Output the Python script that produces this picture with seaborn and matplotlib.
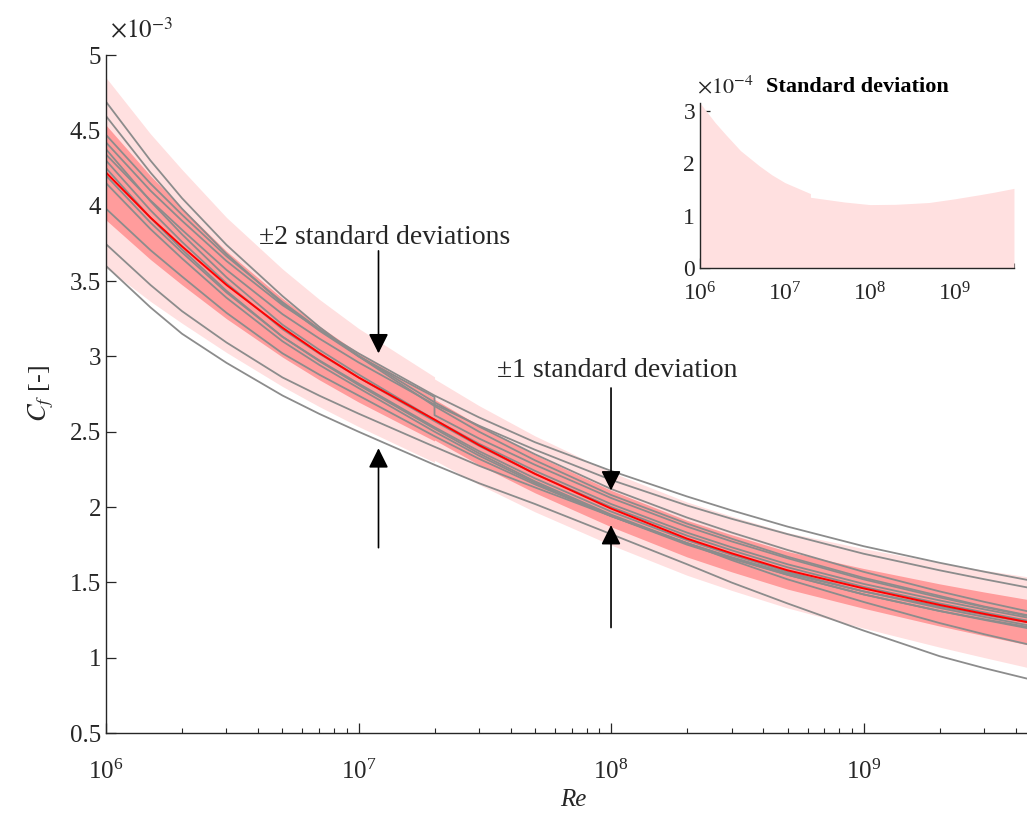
import matplotlib
matplotlib.use("Agg")
import matplotlib.pyplot as plt
import seaborn as sns
import numpy as np
import pandas as pd
from matplotlib.ticker import FuncFormatter, LogLocator, NullFormatter

# Reynolds numbers where the curves were read (2e7 twice: one line has a step there)
re_grid = [1e6, 1.5e6, 2e6, 3e6, 5e6, 7e6, 1e7, 2e7, 2e7, 3e7,
           5e7, 1e8, 2e8, 3e8, 5e8, 1e9, 2e9, 3e9, 5e9]

# individual friction lines, Cf in units of 1e-3
line_a = [4.69, 4.30, 4.05, 3.74, 3.40, 3.195, 3.00, 2.67, 2.67, 2.50,
          2.31, 2.08, 1.89, 1.79, 1.67, 1.53, 1.41, 1.34, 1.265]
line_b = [4.595, 4.22, 3.98, 3.68, 3.35, 3.17, 3.00, 2.73, 2.61, 2.455,
          2.28, 2.06, 1.87, 1.772, 1.66, 1.52, 1.40, 1.336, 1.26]
line_c = [4.47, 4.147, 3.94, 3.665, 3.36, 3.18, 3.005, 2.695, 2.695, 2.534,
          2.35, 2.12, 1.93, 1.831, 1.715, 1.57, 1.44, 1.371, 1.29]
line_d = [4.42, 4.10, 3.90, 3.633, 3.34, 3.178, 3.02, 2.74, 2.74, 2.595,
          2.43, 2.24, 2.07, 1.978, 1.87, 1.74, 1.63, 1.571, 1.50]
line_e = [4.34, 4.035, 3.84, 3.574, 3.28, 3.118, 2.96, 2.68, 2.68, 2.54,
          2.38, 2.18, 2.01, 1.922, 1.82, 1.69, 1.58, 1.521, 1.45]
line_f = [4.375, 4.03, 3.81, 3.525, 3.21, 3.043, 2.88, 2.58, 2.58, 2.42,
          2.24, 2.02, 1.83, 1.733, 1.62, 1.49, 1.38, 1.321, 1.25]
line_g = [4.30, 3.97, 3.76, 3.485, 3.18, 3.017, 2.86, 2.57, 2.57, 2.406,
          2.22, 2.00, 1.81, 1.713, 1.60, 1.47, 1.36, 1.301, 1.23]
line_h = [4.25, 3.92, 3.71, 3.435, 3.13, 2.968, 2.81, 2.52, 2.52, 2.356,
          2.17, 1.95, 1.76, 1.663, 1.55, 1.42, 1.31, 1.251, 1.18]
line_i = [4.20, 3.888, 3.69, 3.424, 3.13, 2.973, 2.82, 2.53, 2.53, 2.371,
          2.19, 1.97, 1.78, 1.683, 1.57, 1.44, 1.33, 1.271, 1.20]
line_j = [4.15, 3.845, 3.65, 3.389, 3.10, 2.943, 2.79, 2.50, 2.50, 2.341,
          2.16, 1.94, 1.75, 1.657, 1.55, 1.42, 1.31, 1.255, 1.19]
line_k = [3.98, 3.705, 3.53, 3.289, 3.02, 2.878, 2.74, 2.47, 2.47, 2.32,
          2.15, 1.94, 1.76, 1.667, 1.56, 1.44, 1.34, 1.285, 1.22]
line_l = [3.745, 3.474, 3.30, 3.092, 2.86, 2.739, 2.62, 2.40, 2.40, 2.274,
          2.13, 1.94, 1.76, 1.648, 1.52, 1.37, 1.23, 1.156, 1.07]
line_m = [3.60, 3.325, 3.15, 2.957, 2.74, 2.618, 2.50, 2.28, 2.28, 2.158,
          2.02, 1.82, 1.62, 1.499, 1.36, 1.18, 1.01, 0.931, 0.84]

# mean (1e-3) and standard deviation (1e-4)
cf_mean = [4.22, 3.921, 3.73, 3.474, 3.19, 3.022, 2.86, 2.58, 2.58, 2.411,
           2.22, 1.99, 1.79, 1.693, 1.58, 1.46, 1.35, 1.291, 1.22]
cf_std = [3.15, 2.78, 2.55, 2.24, 1.95, 1.78, 1.63, 1.42, 1.35, 1.31,
          1.26, 1.21, 1.215, 1.23, 1.25, 1.32, 1.40, 1.45, 1.52]

y_ticks = [0.5, 1, 1.5, 2, 2.5, 3, 3.5, 4, 4.5, 5]
inset_y_ticks = [0, 1, 2, 3]


def build_frame():
    all_lines = [line_a, line_b, line_c, line_d, line_e, line_f, line_g,
                 line_h, line_i, line_j, line_k, line_l, line_m]
    rows = []
    for n, vals in enumerate(all_lines):
        for re, v in zip(re_grid, vals):
            rows.append({"Re": re, "Cf": v * 1e-3, "line": n})
    return pd.DataFrame(rows)


def style_axis(ax, size):
    for side in ("top", "right"):
        ax.spines[side].set_visible(False)
    for side in ("left", "bottom"):
        ax.spines[side].set_color("#262626")
        ax.spines[side].set_linewidth(1.0)
    ax.set_xscale("log")
    ax.xaxis.set_major_locator(LogLocator(base=10))
    ax.xaxis.set_minor_locator(LogLocator(base=10, subs=np.arange(2, 10)))
    ax.xaxis.set_minor_formatter(NullFormatter())
    ax.tick_params(which="both", direction="in", colors="#262626", labelsize=size,
                   bottom=True, left=True, top=False, right=False)
    ax.tick_params(which="major", length=7, width=0.9)
    ax.tick_params(which="minor", length=3.5, width=0.8)


def main():
    sns.set_style("white")
    plt.rcParams["font.family"] = ["Liberation Serif", "DejaVu Serif"]
    plt.rcParams["mathtext.fontset"] = "stix"

    re = np.array(re_grid)
    mean = np.array(cf_mean) * 1e-3
    std = np.array(cf_std) * 1e-4

    fig = plt.figure(figsize=(10.27, 8.14), dpi=100)
    ax = fig.add_axes([0.1032, 0.0995, 0.9095, 0.8329])

    ax.fill_between(re, mean - 2 * std, mean + 2 * std, color="#ffe0e0", lw=0)
    ax.fill_between(re, mean - std, mean + std, color="#ff9c9c", lw=0)
    df = build_frame()
    sns.lineplot(data=df, x="Re", y="Cf", units="line", estimator=None, sort=False,
                 color="#8c8c8c", lw=1.3, ax=ax, legend=False)
    sns.lineplot(x=re, y=mean, sort=False, color="#ff0000", lw=1.4, ax=ax)

    style_axis(ax, 18)
    ax.tick_params(axis="x", pad=19)
    ax.set_xlim(1e6, 5e9)
    ax.set_ylim(0.5e-3, 5e-3)
    ax.set_yticks([t * 1e-3 for t in y_ticks])
    ax.yaxis.set_major_formatter(FuncFormatter(lambda v, p: f"{v * 1e3:g}"))
    ax.set_xlabel("Re", fontsize=18, style="italic", color="#262626", labelpad=4)
    ax.set_ylabel(r"$C_f$ [-]", fontsize=19, color="#262626", labelpad=10)
    ax.text(0.004, 1.017, r"$\times 10^{-3}$", transform=ax.transAxes,
            fontsize=18, color="#262626", va="bottom", ha="left")

    arrow = dict(arrowstyle="-|>", color="black", lw=1.2, mutation_scale=30,
                 shrinkA=0, shrinkB=0)
    ax.annotate("", xy=(1.2e7, 3.02e-3), xytext=(1.2e7, 3.70e-3), arrowprops=arrow)
    ax.annotate("", xy=(1.2e7, 2.39e-3), xytext=(1.2e7, 1.73e-3), arrowprops=arrow)
    ax.annotate("", xy=(1e8, 2.11e-3), xytext=(1e8, 2.79e-3), arrowprops=arrow)
    ax.annotate("", xy=(1e8, 1.88e-3), xytext=(1e8, 1.20e-3), arrowprops=arrow)
    ax.text(1.27e7, 3.79e-3, "\u00b12 standard deviations", fontsize=20,
            ha="center", va="center", color="#262626")
    ax.text(1.06e8, 2.905e-3, "\u00b11 standard deviation", fontsize=20,
            ha="center", va="center", color="#262626")

    # inset with the standard deviation
    ins = fig.add_axes([0.6816, 0.6708, 0.3057, 0.2027])
    ins.fill_between(re, 0, std, color="#ffe0e0", lw=0)
    style_axis(ins, 17)
    ins.tick_params(axis="x", pad=10)
    ins.set_xlim(1e6, 5e9)
    ins.set_ylim(0, max(std))
    ins.set_yticks([t * 1e-4 for t in inset_y_ticks])
    ins.yaxis.set_major_formatter(FuncFormatter(lambda v, p: f"{v * 1e4:g}"))
    ins.set_title("Standard deviation", fontsize=16, fontweight="bold",
                  color="black", pad=8)
    ins.text(-0.01, 1.03, r"$\times 10^{-4}$", transform=ins.transAxes,
             fontsize=16, color="#262626", va="bottom", ha="left")

    fig.savefig("out.png", dpi=100)


if __name__ == "__main__":
    main()
